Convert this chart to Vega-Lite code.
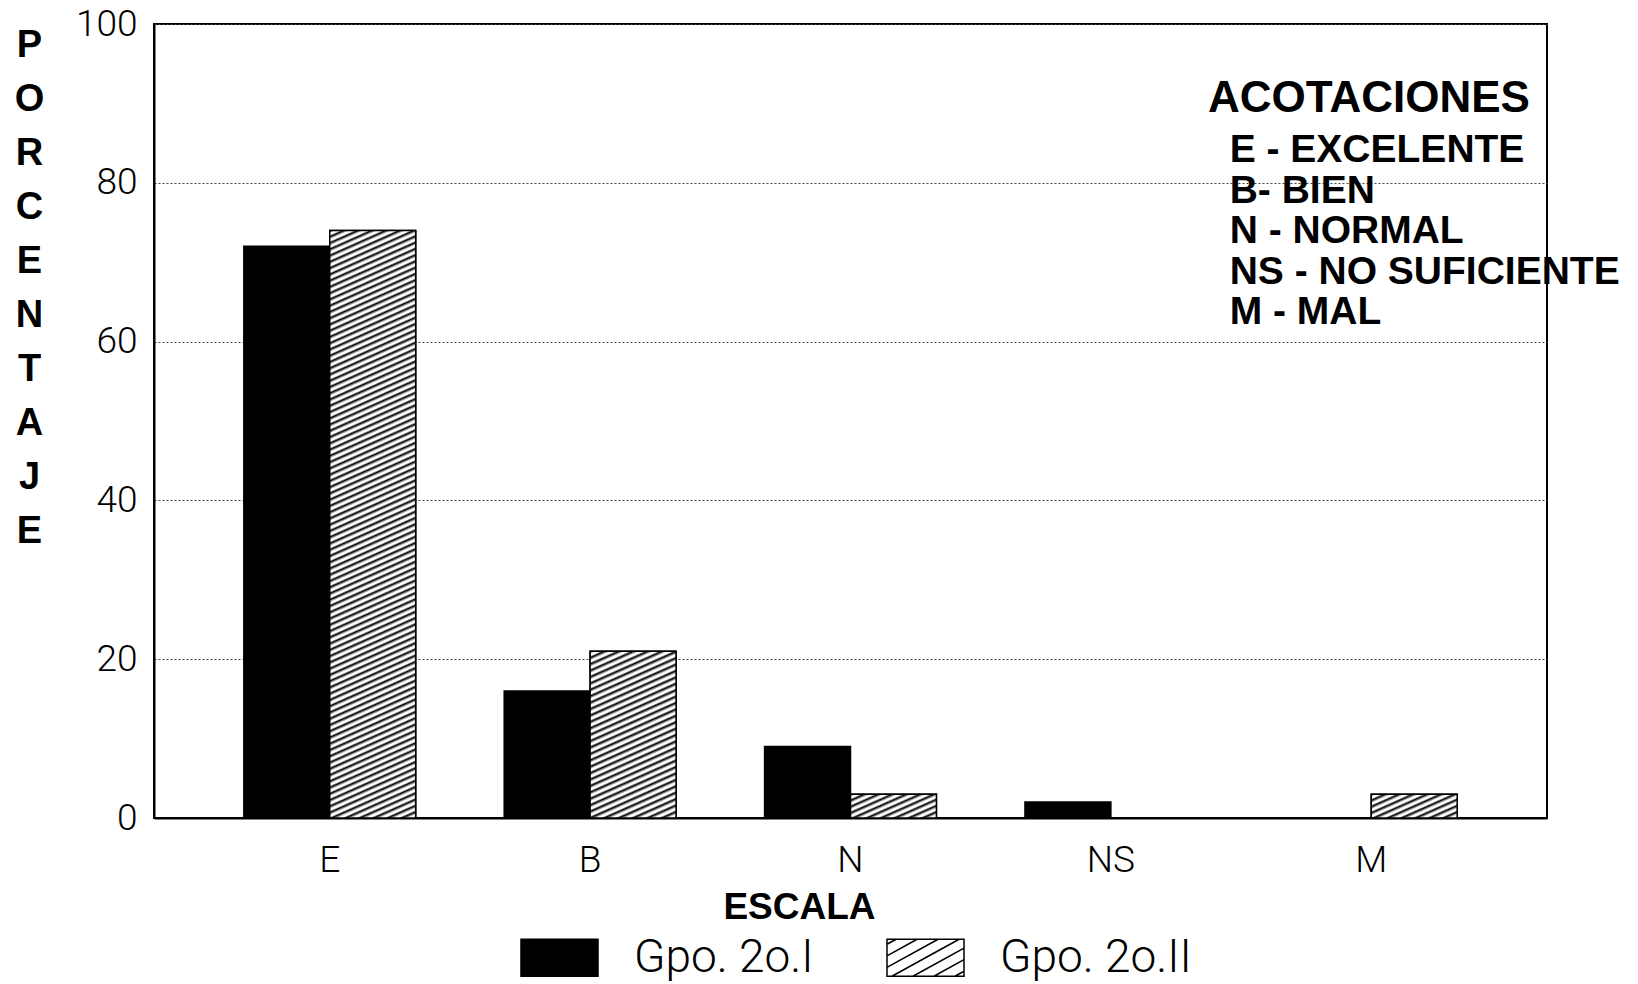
{
"$schema": "https://vega.github.io/schema/vega-lite/v6.json",
"width": 1393, "height": 794,
"autosize": {"type": "none"},
"padding": {"left": 154, "top": 24, "right": 91, "bottom": 166},
"background": "white",
"config": {"view": {"stroke": "black", "strokeWidth": 2}, "font": "Liberation Sans"},
"title": {"text": "ACOTACIONES", "subtitle": ["\u200b\u00a0\u00a0E - EXCELENTE", "\u200b\u00a0\u00a0B- BIEN", "\u200b\u00a0\u00a0N - NORMAL", "\u200b\u00a0\u00a0NS - NO SUFICIENTE", "\u200b\u00a0\u00a0M - MAL"], "anchor": "start", "frame": "group", "orient": "top", "offset": 0, "dx": 1054, "dy": 327, "font": "Liberation Sans", "fontSize": 44, "fontWeight": "bold", "color": "black", "subtitleFont": "Liberation Sans", "subtitleFontSize": 39, "subtitleFontWeight": "bold", "subtitleColor": "black", "subtitleLineHeight": 40.5, "subtitlePadding": 10},
"data": {"values": [
 {"escala": "E", "grupo": "Gpo. 2o.I", "porcentaje": 72},
 {"escala": "E", "grupo": "Gpo. 2o.II", "porcentaje": 74},
 {"escala": "B", "grupo": "Gpo. 2o.I", "porcentaje": 16},
 {"escala": "B", "grupo": "Gpo. 2o.II", "porcentaje": 21},
 {"escala": "N", "grupo": "Gpo. 2o.I", "porcentaje": 9},
 {"escala": "N", "grupo": "Gpo. 2o.II", "porcentaje": 3},
 {"escala": "NS", "grupo": "Gpo. 2o.I", "porcentaje": 2},
 {"escala": "NS", "grupo": "Gpo. 2o.II", "porcentaje": 0},
 {"escala": "M", "grupo": "Gpo. 2o.I", "porcentaje": 0},
 {"escala": "M", "grupo": "Gpo. 2o.II", "porcentaje": 3}
]},
"encoding": {
 "x": {"field": "escala", "type": "nominal", "scale": {"domain": ["E", "B", "N", "NS", "M"], "paddingInner": 0.34, "paddingOuter": 0.345},
  "axis": {"title": "ESCALA", "titleFont": "Liberation Sans", "titleFontWeight": "bold", "titleFontSize": 37, "titleColor": "black", "titleX": 645, "titleY": 89, "titleAlign": "center", "titleBaseline": "middle", "labelAngle": 0, "labelFont": "Roboto", "labelFontWeight": 300, "labelFontSize": 37, "labelColor": "black", "labelBaseline": "middle", "labelPadding": 42, "ticks": false, "tickSize": 0, "domainColor": "black", "domainWidth": 2, "grid": false}},
 "xOffset": {"field": "grupo", "type": "nominal", "scale": {"domain": ["Gpo. 2o.I", "Gpo. 2o.II"], "paddingInner": 0, "paddingOuter": 0}},
 "y": {"field": "porcentaje", "type": "quantitative", "scale": {"domain": [0, 100], "nice": false},
  "axis": {"title": ["P", "O", "R", "C", "E", "N", "T", "A", "J", "E"], "titleAngle": 0, "titleFont": "Liberation Sans", "titleFontSize": 38, "titleFontWeight": "bold", "titleColor": "black", "titleLineHeight": 54, "titleX": -125, "titleY": 21, "titleAlign": "center", "titleBaseline": "middle", "values": [0, 20, 40, 60, 80, 100], "labelFont": "Roboto", "labelFontWeight": 300, "labelFontSize": 37, "labelColor": "black", "labelPadding": 17, "ticks": false, "tickSize": 0, "grid": true, "gridColor": "#444", "gridDash": [2, 2], "gridWidth": 1, "domainColor": "black", "domainWidth": 2}}
},
"layer": [
 {"mark": {"type": "bar", "stroke": "black", "strokeWidth": 1.5},
  "encoding": {"fill": {"field": "grupo", "type": "nominal", "scale": {"domain": ["Gpo. 2o.I", "Gpo. 2o.II"], "range": ["black", "white"]},
   "legend": {"orient": "none", "legendX": 366, "legendY": 894, "direction": "horizontal", "title": null,
    "symbolType": "M-1,-0.48H1V0.48H-1Z M-1,-0.35L-0.764,-0.48 M-1,-0.05L-0.218,-0.48 M-1,0.25L0.327,-0.48 M-0.873,0.48L0.873,-0.48 M-0.327,0.48L1,-0.25 M0.218,0.48L1,0.05 M0.764,0.48L1,0.35",
    "symbolSize": 5929, "symbolStrokeColor": "black", "symbolStrokeWidth": 1.5, "symbolOpacity": 1,
    "labelFont": "Roboto", "labelFontWeight": 300, "labelFontSize": 46, "labelColor": "black", "labelOffset": 35, "labelLimit": 0, "columnPadding": 70,
    "encode": {"symbols": {"update": {"stroke": {"value": "black"}, "strokeWidth": {"value": 1.5}}}}}}}},
 {"transform": [{"filter": "datum.grupo === 'Gpo. 2o.II' && datum.escala === 'E'"}],
  "mark": {"type": "bar", "stroke": "black", "strokeWidth": 1.5, "fill": {"gradient": "linear", "x1": 0, "y1": 0, "x2": 0.0691, "y2": 1.0606, "stops": [
{"offset":0,"color":"#000"},{"offset":0.0045,"color":"#fff"},{"offset":0.007,"color":"#fff"},
{"offset":0.01,"color":"#000"},{"offset":0.0145,"color":"#fff"},{"offset":0.017,"color":"#fff"},
{"offset":0.02,"color":"#000"},{"offset":0.0245,"color":"#fff"},{"offset":0.027,"color":"#fff"},
{"offset":0.03,"color":"#000"},{"offset":0.0345,"color":"#fff"},{"offset":0.037,"color":"#fff"},
{"offset":0.04,"color":"#000"},{"offset":0.0445,"color":"#fff"},{"offset":0.047,"color":"#fff"},
{"offset":0.05,"color":"#000"},{"offset":0.0545,"color":"#fff"},{"offset":0.057,"color":"#fff"},
{"offset":0.06,"color":"#000"},{"offset":0.0645,"color":"#fff"},{"offset":0.067,"color":"#fff"},
{"offset":0.07,"color":"#000"},{"offset":0.0745,"color":"#fff"},{"offset":0.077,"color":"#fff"},
{"offset":0.08,"color":"#000"},{"offset":0.0845,"color":"#fff"},{"offset":0.087,"color":"#fff"},
{"offset":0.09,"color":"#000"},{"offset":0.0945,"color":"#fff"},{"offset":0.097,"color":"#fff"},
{"offset":0.10,"color":"#000"},{"offset":0.1045,"color":"#fff"},{"offset":0.107,"color":"#fff"},
{"offset":0.11,"color":"#000"},{"offset":0.1145,"color":"#fff"},{"offset":0.117,"color":"#fff"},
{"offset":0.12,"color":"#000"},{"offset":0.1245,"color":"#fff"},{"offset":0.127,"color":"#fff"},
{"offset":0.13,"color":"#000"},{"offset":0.1345,"color":"#fff"},{"offset":0.137,"color":"#fff"},
{"offset":0.14,"color":"#000"},{"offset":0.1445,"color":"#fff"},{"offset":0.147,"color":"#fff"},
{"offset":0.15,"color":"#000"},{"offset":0.1545,"color":"#fff"},{"offset":0.157,"color":"#fff"},
{"offset":0.16,"color":"#000"},{"offset":0.1645,"color":"#fff"},{"offset":0.167,"color":"#fff"},
{"offset":0.17,"color":"#000"},{"offset":0.1745,"color":"#fff"},{"offset":0.177,"color":"#fff"},
{"offset":0.18,"color":"#000"},{"offset":0.1845,"color":"#fff"},{"offset":0.187,"color":"#fff"},
{"offset":0.19,"color":"#000"},{"offset":0.1945,"color":"#fff"},{"offset":0.197,"color":"#fff"},
{"offset":0.20,"color":"#000"},{"offset":0.2045,"color":"#fff"},{"offset":0.207,"color":"#fff"},
{"offset":0.21,"color":"#000"},{"offset":0.2145,"color":"#fff"},{"offset":0.217,"color":"#fff"},
{"offset":0.22,"color":"#000"},{"offset":0.2245,"color":"#fff"},{"offset":0.227,"color":"#fff"},
{"offset":0.23,"color":"#000"},{"offset":0.2345,"color":"#fff"},{"offset":0.237,"color":"#fff"},
{"offset":0.24,"color":"#000"},{"offset":0.2445,"color":"#fff"},{"offset":0.247,"color":"#fff"},
{"offset":0.25,"color":"#000"},{"offset":0.2545,"color":"#fff"},{"offset":0.257,"color":"#fff"},
{"offset":0.26,"color":"#000"},{"offset":0.2645,"color":"#fff"},{"offset":0.267,"color":"#fff"},
{"offset":0.27,"color":"#000"},{"offset":0.2745,"color":"#fff"},{"offset":0.277,"color":"#fff"},
{"offset":0.28,"color":"#000"},{"offset":0.2845,"color":"#fff"},{"offset":0.287,"color":"#fff"},
{"offset":0.29,"color":"#000"},{"offset":0.2945,"color":"#fff"},{"offset":0.297,"color":"#fff"},
{"offset":0.30,"color":"#000"},{"offset":0.3045,"color":"#fff"},{"offset":0.307,"color":"#fff"},
{"offset":0.31,"color":"#000"},{"offset":0.3145,"color":"#fff"},{"offset":0.317,"color":"#fff"},
{"offset":0.32,"color":"#000"},{"offset":0.3245,"color":"#fff"},{"offset":0.327,"color":"#fff"},
{"offset":0.33,"color":"#000"},{"offset":0.3345,"color":"#fff"},{"offset":0.337,"color":"#fff"},
{"offset":0.34,"color":"#000"},{"offset":0.3445,"color":"#fff"},{"offset":0.347,"color":"#fff"},
{"offset":0.35,"color":"#000"},{"offset":0.3545,"color":"#fff"},{"offset":0.357,"color":"#fff"},
{"offset":0.36,"color":"#000"},{"offset":0.3645,"color":"#fff"},{"offset":0.367,"color":"#fff"},
{"offset":0.37,"color":"#000"},{"offset":0.3745,"color":"#fff"},{"offset":0.377,"color":"#fff"},
{"offset":0.38,"color":"#000"},{"offset":0.3845,"color":"#fff"},{"offset":0.387,"color":"#fff"},
{"offset":0.39,"color":"#000"},{"offset":0.3945,"color":"#fff"},{"offset":0.397,"color":"#fff"},
{"offset":0.40,"color":"#000"},{"offset":0.4045,"color":"#fff"},{"offset":0.407,"color":"#fff"},
{"offset":0.41,"color":"#000"},{"offset":0.4145,"color":"#fff"},{"offset":0.417,"color":"#fff"},
{"offset":0.42,"color":"#000"},{"offset":0.4245,"color":"#fff"},{"offset":0.427,"color":"#fff"},
{"offset":0.43,"color":"#000"},{"offset":0.4345,"color":"#fff"},{"offset":0.437,"color":"#fff"},
{"offset":0.44,"color":"#000"},{"offset":0.4445,"color":"#fff"},{"offset":0.447,"color":"#fff"},
{"offset":0.45,"color":"#000"},{"offset":0.4545,"color":"#fff"},{"offset":0.457,"color":"#fff"},
{"offset":0.46,"color":"#000"},{"offset":0.4645,"color":"#fff"},{"offset":0.467,"color":"#fff"},
{"offset":0.47,"color":"#000"},{"offset":0.4745,"color":"#fff"},{"offset":0.477,"color":"#fff"},
{"offset":0.48,"color":"#000"},{"offset":0.4845,"color":"#fff"},{"offset":0.487,"color":"#fff"},
{"offset":0.49,"color":"#000"},{"offset":0.4945,"color":"#fff"},{"offset":0.497,"color":"#fff"},
{"offset":0.50,"color":"#000"},{"offset":0.5045,"color":"#fff"},{"offset":0.507,"color":"#fff"},
{"offset":0.51,"color":"#000"},{"offset":0.5145,"color":"#fff"},{"offset":0.517,"color":"#fff"},
{"offset":0.52,"color":"#000"},{"offset":0.5245,"color":"#fff"},{"offset":0.527,"color":"#fff"},
{"offset":0.53,"color":"#000"},{"offset":0.5345,"color":"#fff"},{"offset":0.537,"color":"#fff"},
{"offset":0.54,"color":"#000"},{"offset":0.5445,"color":"#fff"},{"offset":0.547,"color":"#fff"},
{"offset":0.55,"color":"#000"},{"offset":0.5545,"color":"#fff"},{"offset":0.557,"color":"#fff"},
{"offset":0.56,"color":"#000"},{"offset":0.5645,"color":"#fff"},{"offset":0.567,"color":"#fff"},
{"offset":0.57,"color":"#000"},{"offset":0.5745,"color":"#fff"},{"offset":0.577,"color":"#fff"},
{"offset":0.58,"color":"#000"},{"offset":0.5845,"color":"#fff"},{"offset":0.587,"color":"#fff"},
{"offset":0.59,"color":"#000"},{"offset":0.5945,"color":"#fff"},{"offset":0.597,"color":"#fff"},
{"offset":0.60,"color":"#000"},{"offset":0.6045,"color":"#fff"},{"offset":0.607,"color":"#fff"},
{"offset":0.61,"color":"#000"},{"offset":0.6145,"color":"#fff"},{"offset":0.617,"color":"#fff"},
{"offset":0.62,"color":"#000"},{"offset":0.6245,"color":"#fff"},{"offset":0.627,"color":"#fff"},
{"offset":0.63,"color":"#000"},{"offset":0.6345,"color":"#fff"},{"offset":0.637,"color":"#fff"},
{"offset":0.64,"color":"#000"},{"offset":0.6445,"color":"#fff"},{"offset":0.647,"color":"#fff"},
{"offset":0.65,"color":"#000"},{"offset":0.6545,"color":"#fff"},{"offset":0.657,"color":"#fff"},
{"offset":0.66,"color":"#000"},{"offset":0.6645,"color":"#fff"},{"offset":0.667,"color":"#fff"},
{"offset":0.67,"color":"#000"},{"offset":0.6745,"color":"#fff"},{"offset":0.677,"color":"#fff"},
{"offset":0.68,"color":"#000"},{"offset":0.6845,"color":"#fff"},{"offset":0.687,"color":"#fff"},
{"offset":0.69,"color":"#000"},{"offset":0.6945,"color":"#fff"},{"offset":0.697,"color":"#fff"},
{"offset":0.70,"color":"#000"},{"offset":0.7045,"color":"#fff"},{"offset":0.707,"color":"#fff"},
{"offset":0.71,"color":"#000"},{"offset":0.7145,"color":"#fff"},{"offset":0.717,"color":"#fff"},
{"offset":0.72,"color":"#000"},{"offset":0.7245,"color":"#fff"},{"offset":0.727,"color":"#fff"},
{"offset":0.73,"color":"#000"},{"offset":0.7345,"color":"#fff"},{"offset":0.737,"color":"#fff"},
{"offset":0.74,"color":"#000"},{"offset":0.7445,"color":"#fff"},{"offset":0.747,"color":"#fff"},
{"offset":0.75,"color":"#000"},{"offset":0.7545,"color":"#fff"},{"offset":0.757,"color":"#fff"},
{"offset":0.76,"color":"#000"},{"offset":0.7645,"color":"#fff"},{"offset":0.767,"color":"#fff"},
{"offset":0.77,"color":"#000"},{"offset":0.7745,"color":"#fff"},{"offset":0.777,"color":"#fff"},
{"offset":0.78,"color":"#000"},{"offset":0.7845,"color":"#fff"},{"offset":0.787,"color":"#fff"},
{"offset":0.79,"color":"#000"},{"offset":0.7945,"color":"#fff"},{"offset":0.797,"color":"#fff"},
{"offset":0.80,"color":"#000"},{"offset":0.8045,"color":"#fff"},{"offset":0.807,"color":"#fff"},
{"offset":0.81,"color":"#000"},{"offset":0.8145,"color":"#fff"},{"offset":0.817,"color":"#fff"},
{"offset":0.82,"color":"#000"},{"offset":0.8245,"color":"#fff"},{"offset":0.827,"color":"#fff"},
{"offset":0.83,"color":"#000"},{"offset":0.8345,"color":"#fff"},{"offset":0.837,"color":"#fff"},
{"offset":0.84,"color":"#000"},{"offset":0.8445,"color":"#fff"},{"offset":0.847,"color":"#fff"},
{"offset":0.85,"color":"#000"},{"offset":0.8545,"color":"#fff"},{"offset":0.857,"color":"#fff"},
{"offset":0.86,"color":"#000"},{"offset":0.8645,"color":"#fff"},{"offset":0.867,"color":"#fff"},
{"offset":0.87,"color":"#000"},{"offset":0.8745,"color":"#fff"},{"offset":0.877,"color":"#fff"},
{"offset":0.88,"color":"#000"},{"offset":0.8845,"color":"#fff"},{"offset":0.887,"color":"#fff"},
{"offset":0.89,"color":"#000"},{"offset":0.8945,"color":"#fff"},{"offset":0.897,"color":"#fff"},
{"offset":0.90,"color":"#000"},{"offset":0.9045,"color":"#fff"},{"offset":0.907,"color":"#fff"},
{"offset":0.91,"color":"#000"},{"offset":0.9145,"color":"#fff"},{"offset":0.917,"color":"#fff"},
{"offset":0.92,"color":"#000"},{"offset":0.9245,"color":"#fff"},{"offset":0.927,"color":"#fff"},
{"offset":0.93,"color":"#000"},{"offset":0.9345,"color":"#fff"},{"offset":0.937,"color":"#fff"},
{"offset":0.94,"color":"#000"},{"offset":0.9445,"color":"#fff"},{"offset":0.947,"color":"#fff"},
{"offset":0.95,"color":"#000"},{"offset":0.9545,"color":"#fff"},{"offset":0.957,"color":"#fff"},
{"offset":0.96,"color":"#000"},{"offset":0.9645,"color":"#fff"},{"offset":0.967,"color":"#fff"},
{"offset":0.97,"color":"#000"},{"offset":0.9745,"color":"#fff"},{"offset":0.977,"color":"#fff"},
{"offset":0.98,"color":"#000"},{"offset":0.9845,"color":"#fff"},{"offset":0.987,"color":"#fff"},
{"offset":0.99,"color":"#000"},{"offset":0.9945,"color":"#fff"},{"offset":0.997,"color":"#fff"},
{"offset":1,"color":"#000"}
  ]}}},
 {"transform": [{"filter": "datum.grupo === 'Gpo. 2o.II' && datum.escala === 'B'"}],
  "mark": {"type": "bar", "stroke": "black", "strokeWidth": 1.5, "fill": {"gradient": "linear", "x1": 0, "y1": 0, "x2": 0.2682, "y2": 1.168, "stops": [
{"offset":0,"color":"#000"},{"offset":0.01406,"color":"#fff"},{"offset":0.02188,"color":"#fff"},
{"offset":0.03125,"color":"#000"},{"offset":0.04531,"color":"#fff"},{"offset":0.05313,"color":"#fff"},
{"offset":0.0625,"color":"#000"},{"offset":0.07656,"color":"#fff"},{"offset":0.08438,"color":"#fff"},
{"offset":0.09375,"color":"#000"},{"offset":0.10781,"color":"#fff"},{"offset":0.11563,"color":"#fff"},
{"offset":0.125,"color":"#000"},{"offset":0.13906,"color":"#fff"},{"offset":0.14688,"color":"#fff"},
{"offset":0.15625,"color":"#000"},{"offset":0.17031,"color":"#fff"},{"offset":0.17813,"color":"#fff"},
{"offset":0.1875,"color":"#000"},{"offset":0.20156,"color":"#fff"},{"offset":0.20938,"color":"#fff"},
{"offset":0.21875,"color":"#000"},{"offset":0.23281,"color":"#fff"},{"offset":0.24063,"color":"#fff"},
{"offset":0.25,"color":"#000"},{"offset":0.26406,"color":"#fff"},{"offset":0.27188,"color":"#fff"},
{"offset":0.28125,"color":"#000"},{"offset":0.29531,"color":"#fff"},{"offset":0.30313,"color":"#fff"},
{"offset":0.3125,"color":"#000"},{"offset":0.32656,"color":"#fff"},{"offset":0.33438,"color":"#fff"},
{"offset":0.34375,"color":"#000"},{"offset":0.35781,"color":"#fff"},{"offset":0.36563,"color":"#fff"},
{"offset":0.375,"color":"#000"},{"offset":0.38906,"color":"#fff"},{"offset":0.39688,"color":"#fff"},
{"offset":0.40625,"color":"#000"},{"offset":0.42031,"color":"#fff"},{"offset":0.42813,"color":"#fff"},
{"offset":0.4375,"color":"#000"},{"offset":0.45156,"color":"#fff"},{"offset":0.45938,"color":"#fff"},
{"offset":0.46875,"color":"#000"},{"offset":0.48281,"color":"#fff"},{"offset":0.49063,"color":"#fff"},
{"offset":0.5,"color":"#000"},{"offset":0.51406,"color":"#fff"},{"offset":0.52188,"color":"#fff"},
{"offset":0.53125,"color":"#000"},{"offset":0.54531,"color":"#fff"},{"offset":0.55313,"color":"#fff"},
{"offset":0.5625,"color":"#000"},{"offset":0.57656,"color":"#fff"},{"offset":0.58438,"color":"#fff"},
{"offset":0.59375,"color":"#000"},{"offset":0.60781,"color":"#fff"},{"offset":0.61563,"color":"#fff"},
{"offset":0.625,"color":"#000"},{"offset":0.63906,"color":"#fff"},{"offset":0.64688,"color":"#fff"},
{"offset":0.65625,"color":"#000"},{"offset":0.67031,"color":"#fff"},{"offset":0.67813,"color":"#fff"},
{"offset":0.6875,"color":"#000"},{"offset":0.70156,"color":"#fff"},{"offset":0.70938,"color":"#fff"},
{"offset":0.71875,"color":"#000"},{"offset":0.73281,"color":"#fff"},{"offset":0.74063,"color":"#fff"},
{"offset":0.75,"color":"#000"},{"offset":0.76406,"color":"#fff"},{"offset":0.77188,"color":"#fff"},
{"offset":0.78125,"color":"#000"},{"offset":0.79531,"color":"#fff"},{"offset":0.80313,"color":"#fff"},
{"offset":0.8125,"color":"#000"},{"offset":0.82656,"color":"#fff"},{"offset":0.83438,"color":"#fff"},
{"offset":0.84375,"color":"#000"},{"offset":0.85781,"color":"#fff"},{"offset":0.86563,"color":"#fff"},
{"offset":0.875,"color":"#000"},{"offset":0.88906,"color":"#fff"},{"offset":0.89688,"color":"#fff"},
{"offset":0.90625,"color":"#000"},{"offset":0.92031,"color":"#fff"},{"offset":0.92813,"color":"#fff"},
{"offset":0.9375,"color":"#000"},{"offset":0.95156,"color":"#fff"},{"offset":0.95938,"color":"#fff"},
{"offset":0.96875,"color":"#000"},{"offset":0.98281,"color":"#fff"},{"offset":0.99063,"color":"#fff"},
{"offset":1,"color":"#000"}
  ]}}},
 {"transform": [{"filter": "datum.grupo === 'Gpo. 2o.II' && (datum.escala === 'N' || datum.escala === 'M')"}],
  "mark": {"type": "bar", "stroke": "black", "strokeWidth": 1.5, "fill": {"gradient": "linear", "x1": 0, "y1": 0, "x2": 1.1695, "y2": 0.7276, "stops": [
{"offset":0,"color":"#000"},{"offset":0.045,"color":"#fff"},{"offset":0.07,"color":"#fff"},
{"offset":0.1,"color":"#000"},{"offset":0.145,"color":"#fff"},{"offset":0.17,"color":"#fff"},
{"offset":0.2,"color":"#000"},{"offset":0.245,"color":"#fff"},{"offset":0.27,"color":"#fff"},
{"offset":0.3,"color":"#000"},{"offset":0.345,"color":"#fff"},{"offset":0.37,"color":"#fff"},
{"offset":0.4,"color":"#000"},{"offset":0.445,"color":"#fff"},{"offset":0.47,"color":"#fff"},
{"offset":0.5,"color":"#000"},{"offset":0.545,"color":"#fff"},{"offset":0.57,"color":"#fff"},
{"offset":0.6,"color":"#000"},{"offset":0.645,"color":"#fff"},{"offset":0.67,"color":"#fff"},
{"offset":0.7,"color":"#000"},{"offset":0.745,"color":"#fff"},{"offset":0.77,"color":"#fff"},
{"offset":0.8,"color":"#000"},{"offset":0.845,"color":"#fff"},{"offset":0.87,"color":"#fff"},
{"offset":0.9,"color":"#000"},{"offset":0.945,"color":"#fff"},{"offset":0.97,"color":"#fff"},
{"offset":1,"color":"#000"}
  ]}}}
]
}
